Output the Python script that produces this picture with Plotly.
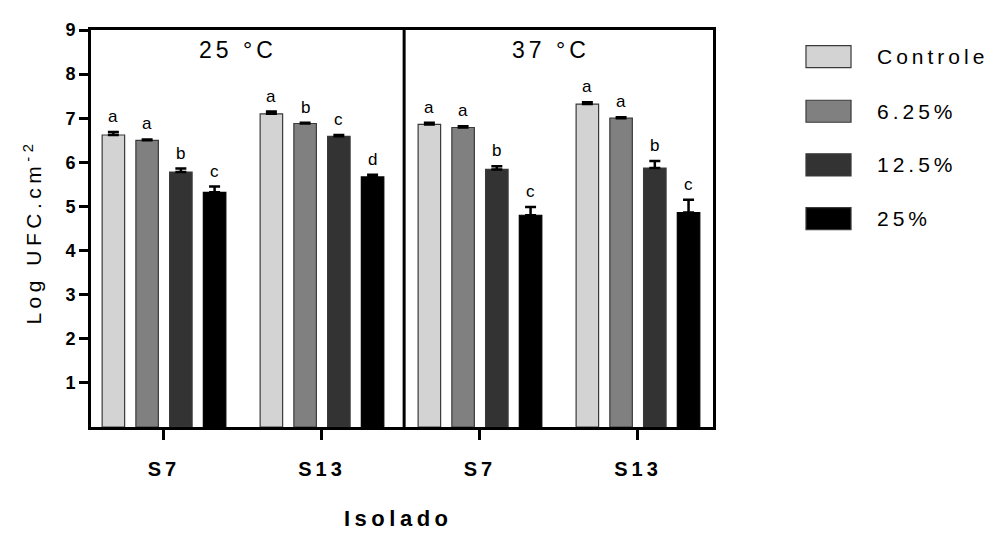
import plotly.graph_objects as go

# ---------------- data ----------------
temperatures = ["25 °C", "37 °C"]
isolates = ["S7", "S13", "S7", "S13"]
series_names = ["Controle", "6.25%", "12.5%", "25%"]
series_colors = ["#d3d3d3", "#808080", "#333333", "#000000"]

controle = [6.62, 7.10, 6.86, 7.32]
conc_625 = [6.50, 6.88, 6.79, 7.00]
conc_125 = [5.78, 6.59, 5.84, 5.87]
conc_25 = [5.32, 5.67, 4.80, 4.86]

err_controle = [0.07, 0.05, 0.04, 0.04]
err_625 = [0.02, 0.02, 0.03, 0.02]
err_125 = [0.08, 0.03, 0.07, 0.16]
err_25 = [0.13, 0.05, 0.19, 0.29]

letters_controle = ["a", "a", "a", "a"]
letters_625 = ["a", "b", "a", "a"]
letters_125 = ["b", "c", "b", "b"]
letters_25 = ["c", "d", "c", "c"]

y_ticks = [1, 2, 3, 4, 5, 6, 7, 8, 9]

values = [controle, conc_625, conc_125, conc_25]
errors = [err_controle, err_625, err_125, err_25]
letters = [letters_controle, letters_625, letters_125, letters_25]

# ---------------- style ----------------
FONT = "Liberation Sans, Arial, sans-serif"
BARGAP = 0.146
BARGROUPGAP = 0.333
x_pos = list(range(len(isolates)))


def spaced(text, px):
    return f'<span style="letter-spacing:{px}px">{text}</span>'


fig = go.Figure()
for name, color, vals, errs in zip(series_names, series_colors, values, errors):
    fig.add_trace(go.Bar(
        x=x_pos, y=vals, name=name,
        marker=dict(color=color, line=dict(color="#000000" if color == "#000000" else "#3a3a3a", width=1.2)),
        error_y=dict(type="data", array=errs, arrayminus=[0] * len(errs), symmetric=False,
                     color="#000000", thickness=2.5, width=5.5),
        showlegend=False,
    ))

annotations = []
slot = (1 - BARGAP) / len(series_names)
for i, (vals, errs, lets) in enumerate(zip(values, errors, letters)):
    off = (i - (len(series_names) - 1) / 2) * slot
    for j in range(len(isolates)):
        annotations.append(dict(
            x=x_pos[j] + off, y=vals[j] + errs[j], xref="x", yref="y",
            text=lets[j], showarrow=False, yanchor="bottom", yshift=4,
            font=dict(family=FONT, size=17, color="#000000")))

# panel titles
for k, t in enumerate(temperatures):
    annotations.append(dict(
        x=[0.47, 2.45][k], y=8.55, xref="x", yref="y", text=spaced(t, 4),
        showarrow=False, font=dict(family=FONT, size=23, color="#000000")))

# y-axis title
annotations.append(dict(
    x=-0.093, y=0.49, xref="paper", yref="paper", textangle=-90,
    xanchor="center", yanchor="middle",
    text=spaced("Log UFC.cm<sup>-2</sup>", 4.5), showarrow=False,
    font=dict(family=FONT, size=21, color="#000000")))

# x-axis title
annotations.append(dict(
    x=0.4936, y=-0.231, xref="paper", yref="paper", xanchor="center", yanchor="middle",
    text=spaced("<b>Isolado</b>", 4.5),
    showarrow=False, font=dict(family=FONT, size=22, color="#000000")))

# manual legend
shapes = []
box_tops = [0.9607, 0.8231, 0.6880, 0.5528]
box_h = 0.0555
for name, color, top in zip(series_names, series_colors, box_tops):
    shapes.append(dict(type="rect", xref="paper", yref="paper",
                       x0=1.1495, x1=1.2219, y0=top - box_h, y1=top,
                       fillcolor=color, line=dict(color="#3a3a3a", width=1.2)))
    annotations.append(dict(x=1.260, y=top - box_h / 2, xref="paper", yref="paper",
                            xanchor="left", yanchor="middle", text=spaced(name, 4),
                            showarrow=False, font=dict(family=FONT, size=21, color="#000000")))

# divider between panels
shapes.append(dict(type="line", xref="x", yref="y", x0=1.52, x1=1.52, y0=0, y1=9,
                   line=dict(color="#000000", width=3)))

# page body adds an 8px offset, so the figure is sized to fit the window
fig.update_layout(
    width=992, height=526,
    margin=dict(l=83, r=287, t=12, b=107),
    paper_bgcolor="white", plot_bgcolor="white",
    barmode="group", bargap=BARGAP, bargroupgap=BARGROUPGAP,
    font=dict(family=FONT, color="#000000"),
    annotations=annotations, shapes=shapes,
    showlegend=False,
)
fig.update_xaxes(
    range=[-0.462, 3.475], tickmode="array", tickvals=x_pos,
    ticktext=[spaced(f"<b>{s}</b>", 4) for s in isolates],
    showline=True, linecolor="#000000", linewidth=3, mirror=True,
    ticks="outside", ticklen=10, tickwidth=3, tickcolor="#000000",
    ticklabelstandoff=12,
    tickfont=dict(family=FONT, size=20, color="#000000"),
    showgrid=False, zeroline=False,
)
fig.update_yaxes(
    range=[0, 9], tickmode="array", tickvals=y_ticks,
    ticktext=[f"<b>{v}</b>" for v in y_ticks],
    showline=True, linecolor="#000000", linewidth=3, mirror=True,
    ticks="outside", ticklen=9, tickwidth=3, tickcolor="#000000",
    tickfont=dict(family=FONT, size=18, color="#000000"),
    showgrid=False, zeroline=False,
)

fig.write_html("out.html")
